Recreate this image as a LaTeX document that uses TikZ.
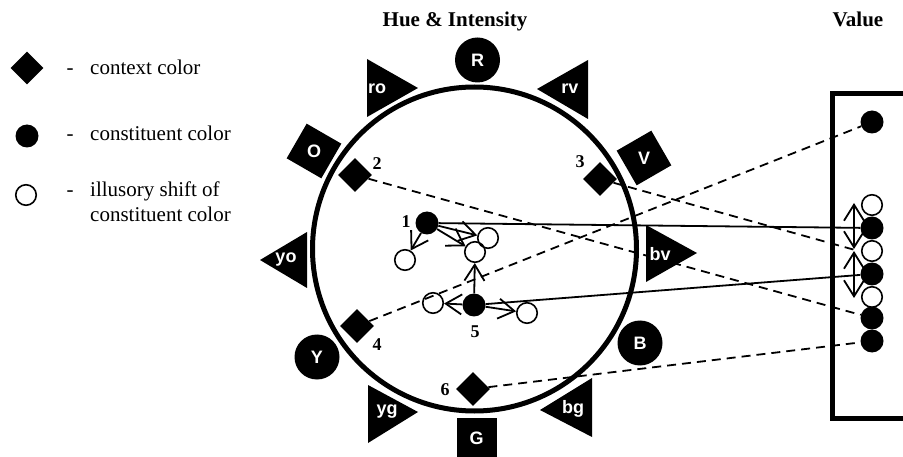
\documentclass[tikz,border=0pt]{standalone}
\usepackage{fontspec}
\setmainfont{Liberation Serif}
\newfontfamily\huefont{Liberation Sans}
\usetikzlibrary{arrows.meta}
\begin{document}
\begin{tikzpicture}[x=1pt,y=-1pt,
  huetxt/.style={font=\huefont\bfseries\fontsize{18}{20}\selectfont, text=white, inner sep=0pt},
  huedot/.style={circle, fill=black, minimum size=45pt, inner sep=0pt},
  huesq/.style={rectangle, fill=black, minimum size=40pt, inner sep=0pt},
  ctx/.style={rectangle, fill=black, minimum size=24pt, inner sep=0pt, rotate=45},
  cons/.style={circle, fill=black, minimum size=23pt, inner sep=0pt},
  illus/.style={circle, draw=black, line width=1.6pt, minimum size=20.5pt, inner sep=0pt},
  numlbl/.style={font=\bfseries\fontsize{18}{20}\selectfont, inner sep=0pt},
  lgd/.style={font=\fontsize{21}{25}\selectfont, inner sep=0pt},
  headtxt/.style={font=\bfseries\fontsize{21}{24}\selectfont, inner sep=0pt, anchor=base},
  solidlink/.style={line width=1.8pt},
  dashlink/.style={line width=1.8pt, dash pattern=on 9pt off 6pt},
  shiftarrow/.style={line width=1.8pt, -{Straight Barb[length=16pt, width=20pt, line width=1.8pt]}}
]
\useasboundingbox (0,0) rectangle (903,457);

% ---------- legend ----------
\node[ctx, minimum size=23pt] (lgctx) at (27,68) {};
\node[lgd, anchor=base] (lgdash1) at (70,75) {-};
\node[lgd, anchor=base west] (lgtxt1) at (90,75) {context color};
\node[cons] (lgcons) at (27,136) {};
\node[lgd, anchor=base] (lgdash2) at (70,141) {-};
\node[lgd, anchor=base west] (lgtxt2) at (90,141) {constituent color};
\node[illus] (lgillus) at (26,195) {};
\node[lgd, anchor=base] (lgdash3) at (70,197) {-};
\node[lgd, anchor=base west] (lgtxt3) at (90,197) {illusory shift of};
\node[lgd, anchor=base west] (lgtxt4) at (90,222) {constituent color};

% ---------- headings ----------
\node[headtxt] (hhue) at (455,27) {Hue \& Intensity};
\node[headtxt] (hval) at (858,27) {Value};

% ---------- anchors for the links (context and constituent colours, value scale) ----------
\node[ctx] (k2) at (355,175) {};
\node[ctx] (k3) at (600,179) {};
\node[ctx] (k4) at (357,326) {};
\node[ctx] (k6) at (473,389) {};
\node[cons] (c1) at (427,223) {};
\node[cons] (c5) at (474,305) {};

\node[illus] (vo1) at (872,205) {};
\node[illus] (vo2) at (872,251) {};
\node[illus] (vo3) at (872,297) {};
\node[cons] (v1) at (872,122) {};
\node[cons] (v2) at (872,228) {};
\node[cons] (v3) at (872,274) {};
\node[cons] (v4) at (872,318) {};
\node[cons] (v5) at (872,341) {};
\coordinate (vmid) at (855,250);

% ---------- links from the wheel to the value scale (under the hue marks) ----------
\draw[solidlink] (c1) -- (v2);
\draw[solidlink] (c5) -- (v3);
\draw[dashlink] (k2) -- (v4);
\draw[dashlink] (k3) -- (vmid);
\draw[dashlink] (k4) -- (v1);
\draw[dashlink] (k6) -- (v5);

% ---------- colour wheel ----------
\node[circle, draw=black, line width=5pt, minimum size=324pt, inner sep=0pt] (wheel) at (474.5,249) {};

% primary and secondary hues
\node[huedot] (Rdot) at (477.5,60) {};
\node[huetxt] (R) at (477.5,60) {R};
\node[huedot] (Bdot) at (640,343) {};
\node[huetxt] (B) at (640,343) {B};
\node[huedot] (Ydot) at (317,357) {};
\node[huetxt] (Y) at (317,357) {Y};
\node[huesq, rotate=-30] (Osq) at (314,151) {};
\node[huetxt] (O) at (314,151) {O};
\node[huesq, rotate=30] (Vsq) at (644,158) {};
\node[huetxt] (V) at (644,158) {V};
\node[huesq] (Gsq) at (476.5,438) {};
\node[huetxt] (G) at (476.5,438) {G};

% tertiary hues (triangles)
\fill (367,59) -- (367,117) -- (418,88) -- cycle;
\node[huetxt] (ro) at (377,89) {ro};
\fill (588,60) -- (588,119) -- (537,89) -- cycle;
\node[huetxt] (rv) at (570,89) {rv};
\fill (646,225) -- (646,282) -- (697,253) -- cycle;
\node[huetxt] (bv) at (660,254) {bv};
\fill (307,232) -- (307,288) -- (260,260) -- cycle;
\node[huetxt] (yo) at (286,260) {yo};
\fill (368,385) -- (368,443) -- (418,412) -- cycle;
\node[huetxt] (yg) at (387,412) {yg};
\fill (592,378) -- (592,437) -- (540,410) -- cycle;
\node[huetxt] (bg) at (573,409) {bg};

% ---------- numbering ----------
\node[numlbl] (n1) at (406,222) {1};
\node[numlbl] (n2) at (377,164) {2};
\node[numlbl] (n3) at (580,162) {3};
\node[numlbl] (n4) at (377,345) {4};
\node[numlbl] (n5) at (475,332) {5};
\node[numlbl] (n6) at (445,390) {6};

% ---------- illusory shifts inside the wheel ----------
\node[illus] (s1a) at (405,260) {};
\node[illus] (s1b) at (488,238) {};
\node[illus] (s1c) at (475,252) {};
\node[illus] (s5a) at (433,303) {};
\node[illus] (s5b) at (527,313) {};

\draw[shiftarrow] (c1) -- (s1a);
\draw[shiftarrow] (c1) -- (s1b);
\draw[shiftarrow] (c1) -- (s1c);
\draw[shiftarrow] (c5) -- (s1c);
\draw[shiftarrow] (c5) -- (s5a);
\draw[shiftarrow] (c5) -- (s5b);

% ---------- value scale ----------
\draw[line width=5pt] (910,94) -- (832,94) -- (832,418) -- (910,418);

\coordinate (a1) at (854,228);
\coordinate (a1u) at (854,203);
\coordinate (a1d) at (854,249);
\coordinate (a2) at (854,274);
\coordinate (a2u) at (854,251);
\coordinate (a2d) at (854,298);
\draw[shiftarrow] (a1) -- (a1u);
\draw[shiftarrow] (a1) -- (a1d);
\draw[shiftarrow] (a2) -- (a2u);
\draw[shiftarrow] (a2) -- (a2d);
\end{tikzpicture}
\end{document}
